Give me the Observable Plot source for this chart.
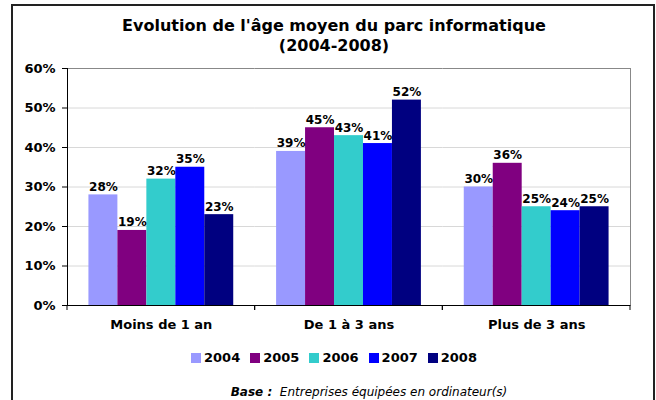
<!DOCTYPE html>
<html><head><meta charset="utf-8">
<script src="https://cdn.jsdelivr.net/npm/d3@7"></script>
<script src="https://cdn.jsdelivr.net/npm/@observablehq/plot@0.6"></script>
<style>
body{margin:0;background:#fff;font-family:"DejaVu Sans",Verdana,sans-serif;color:#000;}
#wrap{position:relative;width:656px;height:400px;overflow:hidden;}
#frame{position:absolute;left:11px;top:4px;width:644px;height:430px;border:2px solid #222;box-sizing:border-box;}
#title{position:absolute;top:16px;left:0;width:668px;text-align:center;font-weight:bold;font-size:16px;line-height:20px;}
#chart{position:absolute;top:60px;left:0;}
#legend{position:absolute;top:350px;left:0;width:668px;display:flex;justify-content:center;font-weight:bold;font-size:13px;line-height:16px;}
.item{display:flex;align-items:center;margin:0 5px;}
.sw{width:10px;height:10px;margin-right:3px;}
#caption{position:absolute;top:384px;left:0;width:738px;text-align:center;font-style:italic;font-size:12px;line-height:16px;}
</style></head>
<body><div id="wrap"><div id="frame"></div>
<div id="title">Evolution de l'âge moyen du parc informatique<br>(2004-2008)</div>
<div id="chart"></div><div id="legend"></div>
<div id="caption"><b>Base :</b>&nbsp; Entreprises équipées en ordinateur(s)</div>
</div>
<script>
const categories = ["Moins de 1 an", "De 1 à 3 ans", "Plus de 3 ans"];
const years = ["2004", "2005", "2006", "2007", "2008"];
const colors = ["#9999FF", "#800080", "#33CCCC", "#0000FF", "#000080"];
const v2004 = [28, 39, 30];
const v2005 = [19, 45, 36];
const v2006 = [32, 43, 25];
const v2007 = [35, 41, 24];
const v2008 = [23, 52, 25];
const yTicks = [0, 10, 20, 30, 40, 50, 60];

const series = [v2004, v2005, v2006, v2007, v2008];
const data = categories.flatMap((c, i) => years.map((y, j) => ({cat: c, year: y, value: series[j][i]})));

const boundaryTicks = (index, scales, values, dims) => {
  const g = d3.create("svg:g").attr("stroke", "#000");
  const y0 = dims.height - dims.marginBottom;
  for (const x of [dims.marginLeft, dims.width - dims.marginRight]) {
    g.append("line").attr("x1", x).attr("x2", x).attr("y1", y0).attr("y2", y0 + 5);
  }
  return g.node();
};

const chart = Plot.plot({
  width: 656, height: 275,
  marginTop: 8, marginBottom: 30, marginLeft: 67, marginRight: 26,
  style: {fontFamily: "DejaVu Sans, Verdana, sans-serif", fontSize: "13px", color: "#000", background: "transparent"},
  facet: {data, x: "cat"},
  fx: {domain: categories, padding: 0, label: null, round: false},
  x: {domain: years, paddingInner: 0, paddingOuter: 0.74, round: false, axis: null},
  y: {domain: [0, 60], label: null},
  color: {domain: years, range: colors},
  marks: [
    Plot.gridY(yTicks.filter(t => t > 0 && t < 60), {stroke: "#d8d8d8", strokeOpacity: 1}),
    Plot.ruleY([60], {stroke: "#888"}),
    Plot.barY(data, {x: "year", y: "value", fill: "year"}),
    Plot.text(data, {x: "year", y: "value", text: d => d.value + "%", lineAnchor: "bottom", dy: -4, fontWeight: "bold", fontSize: 12, fill: "#000"}),
    Plot.ruleY([0], {stroke: "#000"}),
    Plot.frame({anchor: "left", facetAnchor: "left", stroke: "#000"}),
    Plot.frame({anchor: "right", facetAnchor: "right", stroke: "#888"}),
    Plot.axisY(yTicks, {tickSize: 5, tickPadding: 7, tickFormat: d => d + "%", fontWeight: "bold", fontSize: 13, label: null}),
    Plot.axisFx({anchor: "bottom", tickSize: 0, tickPadding: 14, fontWeight: "bold", fontSize: 13, label: null}),
    boundaryTicks
  ]
});
document.getElementById("chart").append(chart);

const legend = document.getElementById("legend");
years.forEach((y, i) => {
  const item = document.createElement("div");
  item.className = "item";
  const sw = document.createElement("span");
  sw.className = "sw";
  sw.style.background = colors[i];
  const t = document.createElement("span");
  t.textContent = y;
  item.append(sw, t);
  legend.append(item);
});
</script></body></html>
